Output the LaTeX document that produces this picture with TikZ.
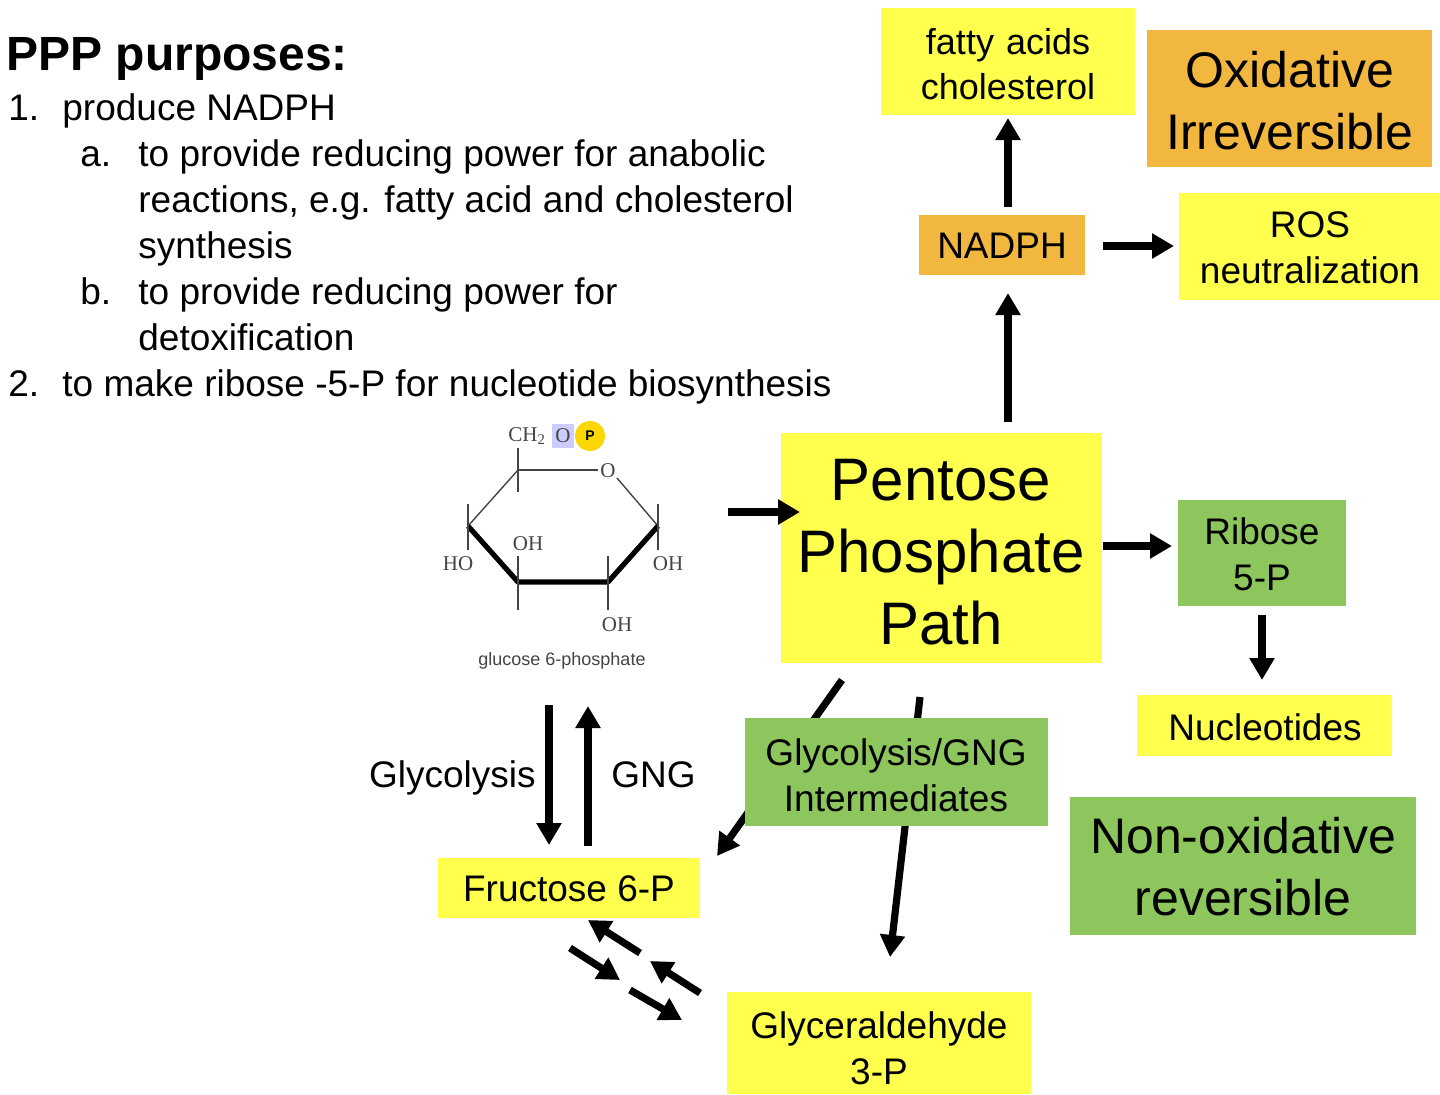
\documentclass[tikz,border=0pt]{standalone}
\usepackage{fontspec}
\setmainfont{Liberation Sans}
\newfontfamily\serifm{Liberation Serif}
\usetikzlibrary{arrows.meta}
\definecolor{yel}{HTML}{FFFF4D}
\definecolor{org}{HTML}{F2B73F}
\definecolor{grn}{HTML}{8DC65C}
\definecolor{ringgray}{HTML}{444444}
\newcommand{\fsz}[2]{\fontsize{#1}{#2}\selectfont}
\begin{document}
\begin{tikzpicture}[x=0.5pt,y=-0.5pt,
  box/.style={inner sep=0pt,align=center,text width={#1}},
  arr/.style={line width=3.6pt,-{Triangle[length=11pt,width=12pt]}},
  ring/.style={ringgray,line width=0.7pt},
  lbl/.style={text=ringgray,font=\serifm\fsz{10.5}{12},inner sep=0pt}]
\useasboundingbox[fill=white] (0,0) rectangle (1440,1094);
% text block
\node[anchor=base west,inner sep=0pt,font=\bfseries\fsz{24}{28}] (title) at (6,70) {PPP purposes:};
\begin{scope}[every node/.style={anchor=base west,inner sep=0pt,font=\fsz{18.5}{22}}]
\node (n1) at (8,120) {1.};\node (t1) at (62,120) {produce NADPH};
\node (na) at (80,166) {a.};\node (ta) at (138,166) {to provide reducing power for anabolic};
\node (ta2) at (138,212) {reactions, e.g. fatty acid and cholesterol};
\node (ta3) at (138,258) {synthesis};
\node (nb) at (80,304) {b.};\node (tb) at (138,304) {to provide reducing power for};
\node (tb2) at (138,350) {detoxification};
\node (n2) at (8,396) {2.};\node (t2) at (62,396) {to make ribose -5-P for nucleotide biosynthesis};
\end{scope}
% boxes
\fill[yel] (881,8) rectangle (1135,115); \node[box=250,font=\fsz{18}{22.5}] (fa) at (1008,64) {fatty acids\\cholesterol};
\fill[org] (1147,30) rectangle (1432,167); \node[box=285,font=\fsz{25}{31}] (ox) at (1290,101) {Oxidative\\Irreversible};
\fill[org] (919,215) rectangle (1085,275); \node[font=\fsz{18.5}{22},inner sep=0pt] (nadph) at (1002,246) {NADPH};
\fill[yel] (1179,193) rectangle (1440,300); \node[box=260,font=\fsz{18.5}{23}] (ros) at (1310,248) {ROS\\neutralization};
\fill[yel] (781,433) rectangle (1102,663); \node[box=320,font=\fsz{30}{36}] (ppp) at (941,552) {Pentose\\Phosphate\\Path};
\fill[grn] (1178,500) rectangle (1346,606); \node[box=168,font=\fsz{18.5}{23}] (rib) at (1262,554) {Ribose\\5-P};
\fill[yel] (1137,695) rectangle (1392,756); \node[font=\fsz{18.5}{22},inner sep=0pt] (nuc) at (1265,727) {Nucleotides};
\fill[grn] (1070,797) rectangle (1416,935); \node[box=346,font=\fsz{25}{31}] (nonox) at (1243,867) {Non-oxidative\\reversible};
\fill[yel] (438,858) rectangle (700,918); \node[font=\fsz{18.5}{22},inner sep=0pt] (fru) at (569,889) {Fructose 6-P};
\fill[yel] (727,992) rectangle (1031,1094); \node[box=300,font=\fsz{18.5}{23}] (gap) at (879,1048) {Glyceraldehyde\\3-P};
% PPP to F6P / GAP arrows (behind green box)
\coordinate (pa) at (842,680); \coordinate (pb) at (717,856);
\draw[arr] (pa) -- (pb);
\coordinate (pc) at (920,697); \coordinate (pd) at (890,957);
\draw[arr] (pc) -- (pd);
\fill[grn] (745,718) rectangle (1048,826); \node[box=300,font=\fsz{18.5}{23}] (gi) at (896,775) {Glycolysis/GNG\\Intermediates};
% other arrows
\coordinate (a1) at (1008,207); \coordinate (a2) at (1008,118);
\draw[arr] (a1) -- (a2);
\coordinate (b1) at (1008,422); \coordinate (b2) at (1008,293);
\draw[arr] (b1) -- (b2);
\coordinate (c1) at (1103,246); \coordinate (c2) at (1174,246);
\draw[arr] (c1) -- (c2);
\coordinate (d1) at (728,512); \coordinate (d2) at (800,512);
\draw[arr] (d1) -- (d2);
\coordinate (e1) at (1103,546); \coordinate (e2) at (1172,546);
\draw[arr] (e1) -- (e2);
\coordinate (f1) at (1262,615); \coordinate (f2) at (1262,680);
\draw[arr] (f1) -- (f2);
\coordinate (g1) at (549,705); \coordinate (g2) at (549,845);
\draw[arr] (g1) -- (g2);
\coordinate (h1) at (588,846); \coordinate (h2) at (588,706);
\draw[arr] (h1) -- (h2);
\coordinate (i1) at (640,953); \coordinate (i2) at (588,920);
\draw[arr] (i1) -- (i2);
\coordinate (j1) at (570,948); \coordinate (j2) at (620,980);
\draw[arr] (j1) -- (j2);
\coordinate (k1) at (700,993); \coordinate (k2) at (650,961);
\draw[arr] (k1) -- (k2);
\coordinate (l1) at (630,990); \coordinate (l2) at (682,1020);
\draw[arr] (l1) -- (l2);
\node[anchor=east,font=\fsz{18.5}{22},inner sep=0pt] (glyc) at (536,778) {Glycolysis};
\node[anchor=west,font=\fsz{18.5}{22},inner sep=0pt] (gng) at (611,775) {GNG};
% glucose 6-phosphate
\coordinate (C5) at (518,470); \coordinate (O5) at (608,470); \coordinate (C1) at (658,526);
\coordinate (C2) at (608,582); \coordinate (C3) at (518,582); \coordinate (C4) at (468,526);
\draw[ring] (C5) -- (598,470); \draw[ring] (617,478) -- (C1); \draw[ring] (C4) -- (C5);
\draw[line width=2.6pt,line join=round] (C1) -- (C2) -- (C3) -- (C4);
\draw[ring] (518,448) -- (518,492); \draw[ring] (468,504) -- (468,550);
\draw[ring] (518,556) -- (518,610); \draw[ring] (608,556) -- (608,610);
\draw[ring] (658,504) -- (658,550);
\node[lbl] (ox5) at (608,471) {O};
\node[lbl,anchor=west] (ch2) at (508,436) {CH\textsubscript{2}};
\fill[blue!20] (552,424) rectangle (574,448);
\node[lbl] (obl) at (563,436) {O};
\fill[yellow!75!orange] (590,436) circle (15);
\node[font=\bfseries\fsz{7}{8}] (pp) at (590,436) {P};
\node[lbl] (ho) at (458,564) {HO};
\node[lbl] (oh3) at (528,544) {OH};
\node[lbl] (oh1) at (668,564) {OH};
\node[lbl] (oh2) at (617,625) {OH};
\node[text=ringgray,font=\fsz{9}{10}] (gname) at (562,661) {glucose 6-phosphate};
\end{tikzpicture}
\end{document}
